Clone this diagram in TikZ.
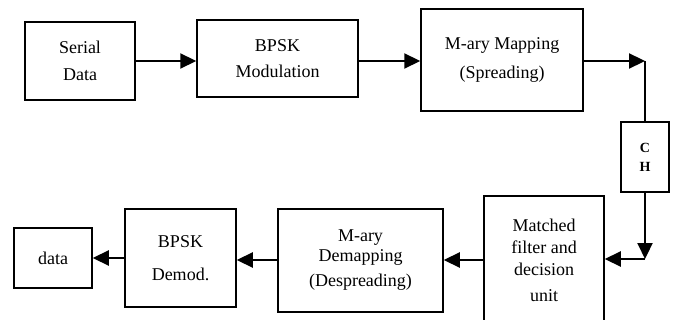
\documentclass[tikz,border=0pt]{standalone}
\usepackage{fontspec}
\setmainfont{Liberation Serif}
\usetikzlibrary{arrows.meta}
\begin{document}
\begin{tikzpicture}[x=1pt,y=-1pt,
  blk/.style={draw,line width=1.5pt,inner sep=0pt,align=center,font=\fontsize{18}{22}\selectfont},
  arr/.style={line width=2.2pt,-{Triangle[length=16pt,width=15pt]}},
  thin/.style={line width=1.5pt}]
\useasboundingbox (0,0) rectangle (684,320);
\node[blk,minimum width=110pt,minimum height=78pt] (ser) at (80,61) {Serial\\[5pt]Data};
\node[blk,minimum width=161pt,minimum height=77pt] (bmod) at (277.5,58.5) {BPSK\\[4pt]Modulation};
\node[blk,minimum width=162pt,minimum height=102pt] (map) at (502,60) {M-ary Mapping\\[7pt](Spreading)};
\node[blk,minimum width=48pt,minimum height=70pt,font=\fontsize{14}{19}\selectfont\bfseries] (ch) at (645,157) {C\\H};
\node[blk,minimum width=120pt,minimum height=128pt] (mf) at (544,260) {Matched\\filter and\\decision\\[4pt]unit};
\node[blk,minimum width=165pt,minimum height=103pt] (dmap) at (360.5,260.5) {M-ary\\[-2pt]Demapping\\[3pt](Despreading)};
\node[blk,minimum width=111pt,minimum height=98pt] (bdem) at (180.5,258) {BPSK\\[11pt]Demod.};
\node[blk,minimum width=78pt,minimum height=60pt] (dat) at (53,258) {data};
\coordinate (c1) at (645,61);
\coordinate (c2) at (645,259);
\draw[arr] (ser.east |- 0,61) -- (bmod.west |- 0,61);
\draw[arr] (bmod.east |- 0,61) -- (map.west |- 0,61);
\draw[arr] (map.east |- c1) -- (c1);
\draw[thin] (c1) -- (ch.north);
\draw[arr] (ch.south) -- (c2);
\draw[arr] (c2) -- (mf.east |- c2);
\draw[arr] (mf.west |- 0,260) -- (dmap.east |- 0,260);
\draw[arr] (dmap.west |- 0,260) -- (bdem.east |- 0,260);
\draw[arr] (bdem.west |- 0,258) -- (dat.east |- 0,258);
\end{tikzpicture}
\end{document}
